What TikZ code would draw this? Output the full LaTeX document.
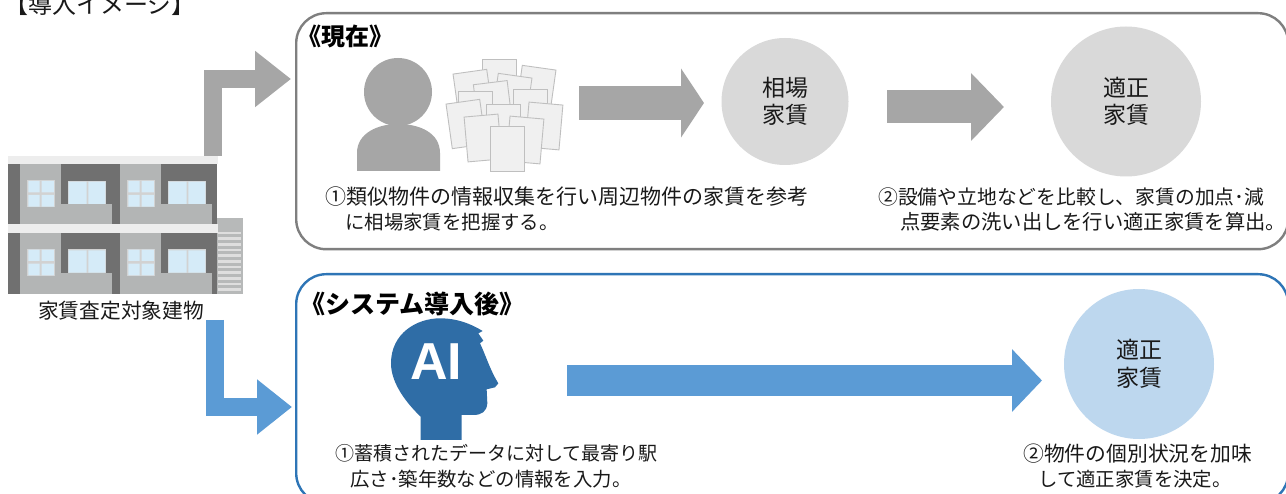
\documentclass[tikz,border=0pt]{standalone}
\usepackage{fontspec}
\setmainfont{Noto Sans CJK JP}
\newfontfamily\latinbold[Scale=1]{Liberation Sans}
\usetikzlibrary{arrows.meta}
\definecolor{greyarrow}{HTML}{A6A6A6}
\definecolor{bluearrow}{HTML}{5B9BD5}
\definecolor{greyline}{HTML}{7F7F7F}
\definecolor{blueline}{HTML}{2E75B6}
\definecolor{greydisc}{HTML}{D9D9D9}
\definecolor{bluedisc}{HTML}{BDD7EE}
\definecolor{aihead}{HTML}{2F6DA6}
\definecolor{wallgrey}{HTML}{B3B5B5}
\definecolor{walldark}{HTML}{707070}
\definecolor{pane}{HTML}{D5EBF8}
\definecolor{framegrey}{HTML}{D2D2D2}
\tikzset{
  panel/.style={draw=#1,line width=2.4pt,fill=white,rounded corners=30pt,inner sep=0pt,anchor=north west},
  disc/.style={circle,fill=#1,inner sep=0pt,align=center,font=\fontsize{23}{27.5}\selectfont,text=black!90},
  body/.style={inner sep=0pt,anchor=west,font=\fontsize{#1}{25}\selectfont,text=black!90},
  heading/.style={inner sep=0pt,anchor=west,font=\fontsize{#1}{#1}\selectfont\bfseries},
  block/.style n args={4}{draw=#1,line width=#2pt,line join=miter,
     -{Triangle[length=#3pt,width=#4pt,fill=#1]}},
  sheet/.style={draw=black!25,fill=black!6,line width=0.9pt,minimum width=34pt,minimum height=45pt,inner sep=0pt},
  storey/.pic={
    \fill[wallgrey] (25,492) rectangle (650,676);
    \fill[black!7] (25,467) rectangle (655,492);
    \fill[walldark] (25,492) rectangle (59,676);
    \foreach \u in {0,300}{
      \begin{scope}[xshift=\u*0.33333pt]
        \fill[walldark] (184,492) rectangle (360-\u/30,612);
        \fill[walldark] (335,612) rectangle (360-\u/30,676);
        \fill[framegrey] (82,540) rectangle (165,622);
        \fill[pane] (85,543) rectangle (119,577) (125,543) rectangle (162,577)
                    (85,585) rectangle (119,620) (125,585) rectangle (162,620);
        \fill[framegrey] (204,542) rectangle (318,612);
        \fill[pane] (206,545) rectangle (260,612) (265,545) rectangle (316,612);
      \end{scope}}
  }
}
\begin{document}
\begin{tikzpicture}[x=1pt,y=-1pt]
\path[use as bounding box,clip] (0,0) rectangle (1286,494);
\fill[white] (0,0) rectangle (1286,494);

% Panels
\node[panel=greyline,minimum width=992pt,minimum height=236pt] (now) at (295,12) {};
\node[panel=blueline,minimum width=992pt,minimum height=229pt] (after) at (295,273) {};

% Title and panel headings
\node[inner sep=0pt,anchor=west,font=\fontsize{24}{24}\selectfont,text=black!90] (title) at (4,4) {【導入イメージ】};
\node[heading=24] (nowhead) at (297,36) {《現在》};
\node[heading=25] (afterhead) at (300,304) {《システム導入後》};

% Building
\begin{scope}[x=0.33333pt,y=-0.33333pt]
  \fill[wallgrey!95!white] (652,653) rectangle (730,882);
  \foreach \s in {695,712,...,880}{\fill[black!13] (655,\s) rectangle (722,\s+8);}
  \pic at (0,0) {storey};
  \pic at (0,206) {storey};
\end{scope}
\node[body=20.7,anchor=center] (bldg) at (121,311) {家賃査定対象建物};

% Routing arrows out of the building
\coordinate (up-start) at (213,156);
\coordinate (up-end) at (291,79);
\coordinate (down-start) at (215,320);
\coordinate (down-end) at (292,407);
\draw[block={greyarrow}{18}{36}{54}] (up-start) |- (up-end);
\draw[block={bluearrow}{18}{35}{53}] (down-start) |- (down-end);

% Person and pile of papers
\node[circle,fill=greyarrow,minimum size=68pt,inner sep=0pt] (person) at (398,92) {};
\fill[greyarrow] (357,171) -- (357,153) .. controls (357,133) and (378,124) .. (398,124)
   .. controls (420,124) and (440,133) .. (440,153) -- (440,171) -- cycle;
\foreach \nam/\px/\py/\rot in {
   a/499/82/0, b/473/94/8, c/536/90/-8, d/512/98/-8, e/493/105/7, f/475/114/0,
   g/530/112/0, h/466/124/8, i/544/126/-5, j/503/127/0, k/483/138/5, l/525/140/-5, m/507/149/0}
  \node[sheet,rotate=\rot] (sheet-\nam) at (\px,\py) {};

% Current workflow
\node[disc=greydisc,minimum size=127pt] (market) at (785,101.5) {相場\\家賃};
\node[disc=greydisc,minimum size=150pt] (fair) at (1126,101.5) {適正\\家賃};
\coordinate (flow1-start) at (579,103);
\coordinate (flow1-end) at (704,103);
\coordinate (flow2-start) at (887,107);
\coordinate (flow2-end) at (1004,107);
\draw[block={greyarrow}{34}{23}{68}] (flow1-start) -- (flow1-end);
\draw[block={greyarrow}{33}{33}{66}] (flow2-start) -- (flow2-end);

\node[body=21] (now1a) at (325,197) {①類似物件の情報収集を行い周辺物件の家賃を参考};
\node[body=19.4] (now1b) at (345,222) {に相場家賃を把握する。};
\node[body=19.8] (now2a) at (878,197) {②設備や立地などを比較し、家賃の加点･減};
\node[body=20.3] (now2b) at (900,222) {点要素の洗い出しを行い適正家賃を算出。};

% AI head silhouette
\begin{scope}[x=0.33333pt,y=-0.33333pt,shift={(870,810)}]
  \fill[aihead] (392,510) -- (392,440) .. controls (350,400) and (303,340) .. (303,280)
    .. controls (303,190) and (380,145) .. (450,145) .. controls (500,145) and (540,160) .. (578,183)
    -- (565,190) -- (580,212) -- (570,220) .. controls (585,250) and (600,300) .. (625,340)
    -- (615,352) -- (590,358) -- (592,400) .. controls (590,425) and (575,435) .. (550,435)
    -- (515,435) -- (515,510) -- cycle;
\end{scope}
\node[inner sep=0pt,text=white,font=\latinbold\bfseries\fontsize{52}{52}\selectfont] (ailogo) at (436,362) {AI};

% Workflow after introduction
\node[disc=bluedisc,minimum size=150pt] (result) at (1139,364) {適正\\家賃};
\coordinate (flow3-start) at (567,380.5);
\coordinate (flow3-end) at (1042,380.5);
\draw[block={bluearrow}{31}{30}{61}] (flow3-start) -- (flow3-end);

\node[body=19] (after1a) at (335,453) {①蓄積されたデータに対して最寄り駅};
\node[body=19.4] (after1b) at (350,479) {広さ･築年数などの情報を入力。};
\node[body=20.8] (after2a) at (1023,454) {②物件の個別状況を加味};
\node[body=19.4] (after2b) at (1038,479) {して適正家賃を決定。};
\end{tikzpicture}
\end{document}
